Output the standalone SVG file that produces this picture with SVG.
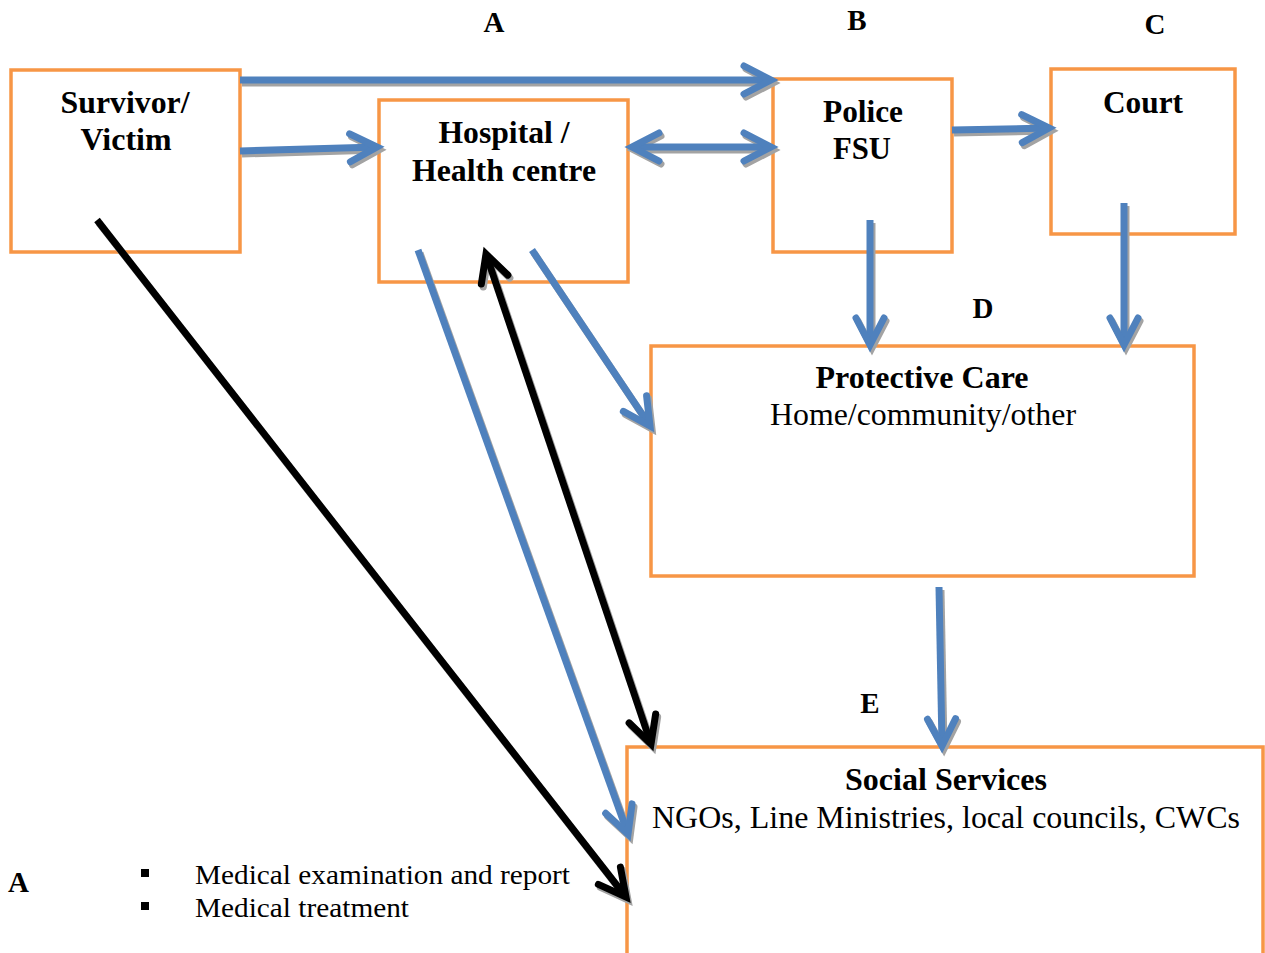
<svg xmlns="http://www.w3.org/2000/svg" width="1265" height="953" viewBox="0 0 1265 953">
<style>
.box{fill:none;stroke:#f79646;stroke-width:3.5}
.t{font-family:"Liberation Serif","Times New Roman",serif;fill:#000}
.b{font-weight:bold;font-size:31px}
.r{font-size:31px}
.lab{font-family:"Liberation Serif","Times New Roman",serif;font-weight:bold;font-size:29px;fill:#000}
.bl{fill:none;stroke:#4f81bd;stroke-width:7}
.bk{fill:none;stroke:#000;stroke-width:7}
.sh{fill:none;stroke:#a3a3a3;stroke-width:7}
</style>
<defs>
<marker id="mb" markerUnits="userSpaceOnUse" orient="auto-start-reverse" overflow="visible" markerWidth="1" markerHeight="1" refX="0" refY="0">
<path d="M-27,-14 L0,0 L-27,14" fill="none" stroke="#4f81bd" stroke-width="7" stroke-linecap="round"/>
</marker>
<marker id="mk" markerUnits="userSpaceOnUse" orient="auto-start-reverse" overflow="visible" markerWidth="1" markerHeight="1" refX="0" refY="0">
<path d="M-27,-14 L0,0 L-27,14" fill="none" stroke="#000" stroke-width="7" stroke-linecap="round"/>
</marker>
<marker id="ms" markerUnits="userSpaceOnUse" orient="auto-start-reverse" overflow="visible" markerWidth="1" markerHeight="1" refX="0" refY="0">
<path d="M-27,-14 L0,0 L-27,14" fill="none" stroke="#a3a3a3" stroke-width="7" stroke-linecap="round"/>
</marker>
</defs>
<rect width="1265" height="953" fill="#fff"/>

<g id="survivor">
<rect class="box" x="11" y="70" width="229" height="182"/>
<text class="t b" x="125" y="113" text-anchor="middle" textLength="129" lengthAdjust="spacingAndGlyphs">Survivor/</text>
<text class="t b" x="126" y="150" text-anchor="middle" textLength="91" lengthAdjust="spacingAndGlyphs">Victim</text>
</g>
<g id="hospital">
<rect class="box" x="379" y="100" width="249" height="182"/>
<text class="t b" x="504" y="143" text-anchor="middle" textLength="131" lengthAdjust="spacingAndGlyphs">Hospital /</text>
<text class="t b" x="504" y="181" text-anchor="middle" textLength="184" lengthAdjust="spacingAndGlyphs">Health centre</text>
</g>
<g id="police">
<rect class="box" x="773" y="79" width="179" height="173"/>
<text class="t b" x="863" y="122" text-anchor="middle" textLength="80" lengthAdjust="spacingAndGlyphs">Police</text>
<text class="t b" x="862" y="159" text-anchor="middle" textLength="58" lengthAdjust="spacingAndGlyphs">FSU</text>
</g>
<g id="court">
<rect class="box" x="1051" y="69" width="184" height="165"/>
<text class="t b" x="1143" y="113" text-anchor="middle" textLength="80" lengthAdjust="spacingAndGlyphs">Court</text>
</g>
<g id="protective">
<rect class="box" x="651" y="346" width="543" height="230"/>
<text class="t b" x="922" y="388" text-anchor="middle" textLength="213" lengthAdjust="spacingAndGlyphs">Protective Care</text>
<text class="t r" x="923" y="425" text-anchor="middle" textLength="306" lengthAdjust="spacingAndGlyphs">Home/community/other</text>
</g>
<g id="social">
<rect class="box" x="627" y="747" width="636" height="240"/>
<text class="t b" x="946" y="790" text-anchor="middle" textLength="202" lengthAdjust="spacingAndGlyphs">Social Services</text>
<text class="t r" x="946" y="828" text-anchor="middle" textLength="588" lengthAdjust="spacingAndGlyphs">NGOs, Line Ministries, local councils, CWCs</text>
</g>

<g id="labels">
<text class="lab" x="494" y="32" text-anchor="middle">A</text>
<text class="lab" x="857" y="30" text-anchor="middle">B</text>
<text class="lab" x="1155" y="34" text-anchor="middle">C</text>
<text class="lab" x="983" y="318" text-anchor="middle">D</text>
<text class="lab" x="870" y="713" text-anchor="middle">E</text>
</g>

<g id="legend">
<text class="lab" x="8" y="892">A</text>
<rect x="141" y="869" width="8" height="8" fill="#000"/>
<rect x="141" y="902" width="8" height="8" fill="#000"/>
<text class="t" x="195" y="884" font-size="27" textLength="375" lengthAdjust="spacingAndGlyphs">Medical examination and report</text>
<text class="t" x="195" y="917" font-size="27" textLength="214" lengthAdjust="spacingAndGlyphs">Medical treatment</text>
</g>

<g id="connectors">
<g transform="translate(2,3)">
<line class="sh" x1="240" y1="80" x2="771" y2="80" marker-end="url(#ms)"/>
<line class="sh" x1="240" y1="151" x2="377" y2="147" marker-end="url(#ms)"/>
<line class="sh" x1="632" y1="147" x2="771" y2="147" marker-start="url(#ms)" marker-end="url(#ms)"/>
<line class="sh" x1="952" y1="130" x2="1049" y2="128" marker-end="url(#ms)"/>
<line class="sh" x1="870" y1="220" x2="870" y2="345" marker-end="url(#ms)"/>
<line class="sh" x1="1124" y1="203" x2="1124" y2="345" marker-end="url(#ms)"/>
<line class="sh" x1="939" y1="587" x2="942" y2="746" marker-end="url(#ms)"/>
<line class="sh" x1="532" y1="250" x2="650" y2="426" marker-end="url(#ms)"/>
<line class="sh" x1="418" y1="250" x2="628" y2="834" marker-end="url(#ms)"/>
<line class="sh" x1="486" y1="254" x2="651" y2="744" marker-start="url(#ms)" marker-end="url(#ms)"/>
<line class="sh" x1="97" y1="220" x2="626" y2="897" marker-end="url(#ms)"/>
</g>
<line class="bl" x1="240" y1="80" x2="771" y2="80" marker-end="url(#mb)"/>
<line class="bl" x1="240" y1="151" x2="377" y2="147" marker-end="url(#mb)"/>
<line class="bl" x1="632" y1="147" x2="771" y2="147" marker-start="url(#mb)" marker-end="url(#mb)"/>
<line class="bl" x1="952" y1="130" x2="1049" y2="128" marker-end="url(#mb)"/>
<line class="bl" x1="870" y1="220" x2="870" y2="345" marker-end="url(#mb)"/>
<line class="bl" x1="1124" y1="203" x2="1124" y2="345" marker-end="url(#mb)"/>
<line class="bl" x1="939" y1="587" x2="942" y2="746" marker-end="url(#mb)"/>
<line class="bl" x1="532" y1="250" x2="650" y2="426" marker-end="url(#mb)"/>
<line class="bl" x1="418" y1="250" x2="628" y2="834" marker-end="url(#mb)"/>
<line class="bk" x1="486" y1="254" x2="651" y2="744" marker-start="url(#mk)" marker-end="url(#mk)"/>
<line class="bk" x1="97" y1="220" x2="626" y2="897" marker-end="url(#mk)"/>
</g>
</svg>
